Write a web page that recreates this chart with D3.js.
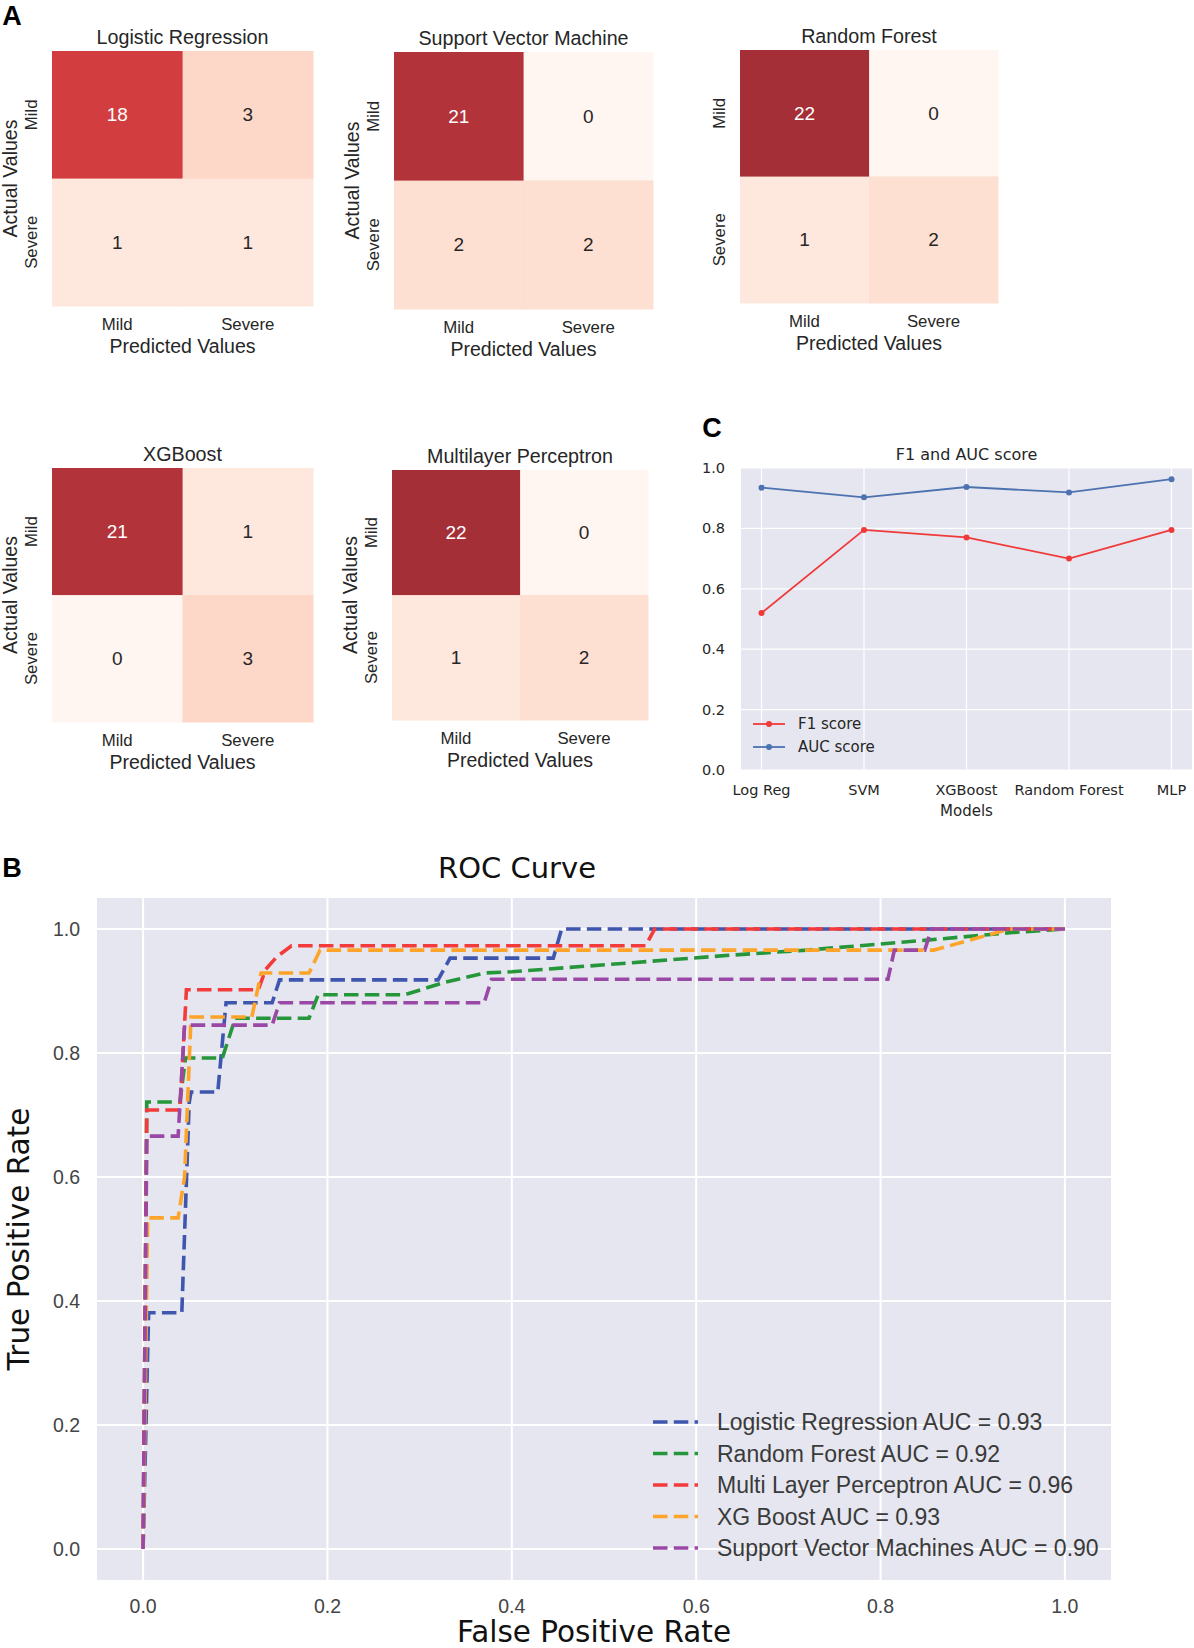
<!DOCTYPE html>
<html><head><meta charset="utf-8">
<script src="https://cdn.jsdelivr.net/npm/d3@7"></script>
<style>body{margin:0;background:#fff}</style>
</head><body><svg id="c" width="1194" height="1648"></svg>
<script>
// ---------------- DATA ----------------
const classLabels = ["Mild", "Severe"];
const cmTitles = ["Logistic Regression", "Support Vector Machine", "Random Forest", "XGBoost", "Multilayer Perceptron"];
const cmLR  = [[18, 3], [1, 1]];
const cmSVM = [[21, 0], [2, 2]];
const cmRF  = [[22, 0], [1, 2]];
const cmXGB = [[21, 1], [0, 3]];
const cmMLP = [[22, 0], [1, 2]];

const models = ["Log Reg", "SVM", "XGBoost", "Random Forest", "MLP"];
const f1Scores  = [0.52, 0.795, 0.77, 0.70, 0.795];
const aucScores = [0.935, 0.903, 0.937, 0.919, 0.963];
const scoreTicks = [0.0, 0.2, 0.4, 0.6, 0.8, 1.0];

const rocNames = ["Logistic Regression AUC = 0.93", "Random Forest AUC = 0.92", "Multi Layer Perceptron AUC = 0.96", "XG Boost AUC = 0.93", "Support Vector Machines AUC = 0.90"];
const rocLR  = [[0,0],[0.006,0.381],[0.042,0.381],[0.05,0.72],[0.052,0.737],[0.081,0.737],[0.09,0.881],[0.14,0.881],[0.148,0.918],[0.32,0.918],[0.333,0.953],[0.445,0.953],[0.454,1.0],[1.0,1.0]];
const rocRF  = [[0,0],[0.004,0.721],[0.04,0.721],[0.046,0.792],[0.086,0.792],[0.10,0.856],[0.18,0.856],[0.19,0.894],[0.284,0.894],[0.325,0.913],[0.37,0.929],[0.40,0.931],[0.64,0.958],[0.72,0.966],[0.85,0.982],[0.94,0.994],[1.0,1.0]];
const rocMLP = [[0,0],[0.004,0.708],[0.04,0.708],[0.047,0.902],[0.125,0.902],[0.133,0.935],[0.145,0.955],[0.161,0.973],[0.545,0.973],[0.555,1.0],[1.0,1.0]];
const rocXGB = [[0,0],[0.005,0.534],[0.038,0.534],[0.045,0.60],[0.052,0.858],[0.118,0.858],[0.128,0.929],[0.18,0.929],[0.192,0.966],[0.858,0.966],[0.94,1.0],[1.0,1.0]];
const rocSVM = [[0,0],[0.004,0.666],[0.038,0.666],[0.045,0.845],[0.14,0.845],[0.148,0.881],[0.37,0.881],[0.378,0.919],[0.808,0.919],[0.815,0.966],[0.848,0.966],[0.855,1.0],[1.0,1.0]];
const rocTicks = [0.0, 0.2, 0.4, 0.6, 0.8, 1.0];

// ---------------- STYLE / LAYOUT ----------------
const svg = d3.select("#c");
const AR = "Liberation Sans, Arial, sans-serif";
const DJ = "DejaVu Sans, sans-serif";
const TXT = "#262626";
const BG = "#e5e6ef";

svg.append("rect").attr("width", 1194).attr("height", 1648).attr("fill", "#fff");

// panel letters
[["A", 12, 16], ["B", 12, 868], ["C", 712, 428]].forEach(([t, x, y]) => {
  svg.append("text").text(t).attr("x", x).attr("y", y).attr("text-anchor", "middle")
    .attr("dominant-baseline", "central").attr("font-family", AR).attr("font-weight", "bold")
    .attr("font-size", 27).attr("fill", "#000");
});

// ---------------- PANEL A : confusion matrices ----------------
const cmT = d3.scaleLinear().domain([0, 1, 22]).range([0.01, 0.10, 0.905]);
const cmColor = v => d3.interpolateReds(cmT(v));
const cmPanels = [
  {m: cmLR,  t: cmTitles[0], x0: 52,  x1: 313, y0: 51,  y1: 306, ylab: true},
  {m: cmSVM, t: cmTitles[1], x0: 394, x1: 653, y0: 52,  y1: 309, ylab: true},
  {m: cmRF,  t: cmTitles[2], x0: 740, x1: 998, y0: 50,  y1: 303, ylab: false},
  {m: cmXGB, t: cmTitles[3], x0: 52,  x1: 313, y0: 468, y1: 722, ylab: true},
  {m: cmMLP, t: cmTitles[4], x0: 392, x1: 648, y0: 470, y1: 720, ylab: true}
];
cmPanels.forEach(p => {
  const g = svg.append("g");
  const xs = d3.scaleBand().domain(classLabels).range([p.x0, p.x1]);
  const ys = d3.scaleBand().domain(classLabels).range([p.y0, p.y1]);
  const cells = [];
  classLabels.forEach((a, i) => classLabels.forEach((pr, j) => cells.push({a, pr, v: p.m[i][j]})));
  g.selectAll("rect").data(cells).join("rect")
    .attr("x", d => xs(d.pr)).attr("y", d => ys(d.a))
    .attr("width", xs.bandwidth() + 0.5).attr("height", ys.bandwidth() + 0.5)
    .attr("fill", d => cmColor(d.v)).attr("fill-opacity", 0.85);
  g.selectAll("text.v").data(cells).join("text").attr("class", "v")
    .attr("x", d => xs(d.pr) + xs.bandwidth() / 2).attr("y", d => ys(d.a) + ys.bandwidth() / 2)
    .attr("text-anchor", "middle").attr("dominant-baseline", "central")
    .attr("font-family", AR).attr("font-size", 19)
    .attr("fill", d => d.v > 11 ? "#fff" : TXT).text(d => d.v);
  g.append("text").text(p.t).attr("x", (p.x0 + p.x1) / 2).attr("y", p.y0 - 14)
    .attr("text-anchor", "middle").attr("dominant-baseline", "central")
    .attr("font-family", AR).attr("font-size", 19.7).attr("fill", TXT);
  classLabels.forEach(c => {
    g.append("text").text(c).attr("x", xs(c) + xs.bandwidth() / 2).attr("y", p.y1 + 18)
      .attr("text-anchor", "middle").attr("dominant-baseline", "central")
      .attr("font-family", AR).attr("font-size", 16.8).attr("fill", TXT);
    g.append("text").text(c)
      .attr("transform", `translate(${p.x0 - 21},${ys(c) + ys.bandwidth() / 2}) rotate(-90)`)
      .attr("text-anchor", "middle").attr("dominant-baseline", "central")
      .attr("font-family", AR).attr("font-size", 16.8).attr("fill", TXT);
  });
  g.append("text").text("Predicted Values").attr("x", (p.x0 + p.x1) / 2).attr("y", p.y1 + 40)
    .attr("text-anchor", "middle").attr("dominant-baseline", "central")
    .attr("font-family", AR).attr("font-size", 19.5).attr("fill", TXT);
  if (p.ylab) {
    g.append("text").text("Actual Values")
      .attr("transform", `translate(${p.x0 - 42},${(p.y0 + p.y1) / 2}) rotate(-90)`)
      .attr("text-anchor", "middle").attr("dominant-baseline", "central")
      .attr("font-family", AR).attr("font-size", 19.5).attr("fill", TXT);
  }
});

// ---------------- PANEL C : F1 and AUC ----------------
(function () {
  const L = 741, R = 1192, T = 468, B = 770;
  const x = d3.scaleLinear().domain([-0.2, models.length - 1 + 0.2]).range([L, R]);
  const y = d3.scaleLinear().domain([0, 1]).range([B, T]);
  const g = svg.append("g");
  g.append("rect").attr("x", L).attr("y", T).attr("width", R - L).attr("height", B - T).attr("fill", BG);
  g.selectAll("line.gy").data(scoreTicks).join("line").attr("class", "gy")
    .attr("x1", L).attr("x2", R).attr("y1", d => y(d)).attr("y2", d => y(d))
    .attr("stroke", "#fff").attr("stroke-width", 1.2);
  g.selectAll("line.gx").data(models).join("line").attr("class", "gx")
    .attr("x1", (d, i) => x(i)).attr("x2", (d, i) => x(i)).attr("y1", T).attr("y2", B)
    .attr("stroke", "#fff").attr("stroke-width", 1.2);
  g.selectAll("text.ty").data(scoreTicks).join("text").attr("class", "ty")
    .attr("x", L - 16).attr("y", d => y(d)).attr("text-anchor", "end").attr("dominant-baseline", "central")
    .attr("font-family", DJ).attr("font-size", 14.5).attr("fill", TXT).text(d => d.toFixed(1));
  g.selectAll("text.tx").data(models).join("text").attr("class", "tx")
    .attr("x", (d, i) => x(i)).attr("y", B + 20).attr("text-anchor", "middle").attr("dominant-baseline", "central")
    .attr("font-family", DJ).attr("font-size", 14.5).attr("fill", TXT).text(d => d);
  g.append("text").text("Models").attr("x", (L + R) / 2).attr("y", B + 41)
    .attr("text-anchor", "middle").attr("dominant-baseline", "central")
    .attr("font-family", DJ).attr("font-size", 15).attr("fill", TXT);
  g.append("text").text("F1 and AUC score").attr("x", (L + R) / 2).attr("y", T - 14)
    .attr("text-anchor", "middle").attr("dominant-baseline", "central")
    .attr("font-family", DJ).attr("font-size", 16).attr("fill", TXT);
  const series = [{v: f1Scores, c: "#f03a3a", n: "F1 score"}, {v: aucScores, c: "#4c72b0", n: "AUC score"}];
  const line = d3.line().x((d, i) => x(i)).y(d => y(d));
  series.forEach((s, k) => {
    g.append("path").attr("d", line(s.v)).attr("fill", "none").attr("stroke", s.c).attr("stroke-width", 1.8);
    g.selectAll(null).data(s.v).join("circle").attr("cx", (d, i) => x(i)).attr("cy", d => y(d))
      .attr("r", 3).attr("fill", s.c);
    const ly = 724 + k * 23;
    g.append("line").attr("x1", 753).attr("x2", 785).attr("y1", ly).attr("y2", ly)
      .attr("stroke", s.c).attr("stroke-width", 1.8);
    g.append("circle").attr("cx", 769).attr("cy", ly).attr("r", 3).attr("fill", s.c);
    g.append("text").text(s.n).attr("x", 798).attr("y", ly).attr("dominant-baseline", "central")
      .attr("font-family", DJ).attr("font-size", 15).attr("fill", TXT);
  });
})();

// ---------------- PANEL B : ROC ----------------
(function () {
  const L = 97, R = 1111, T = 898, B = 1580;
  const x = d3.scaleLinear().domain([-0.05, 1.05]).range([L, R]);
  const y = d3.scaleLinear().domain([-0.05, 1.05]).range([B, T]);
  const g = svg.append("g");
  g.append("rect").attr("x", L).attr("y", T).attr("width", R - L).attr("height", B - T).attr("fill", BG);
  g.selectAll("line.gy").data(rocTicks).join("line").attr("class", "gy")
    .attr("x1", L).attr("x2", R).attr("y1", d => y(d)).attr("y2", d => y(d))
    .attr("stroke", "#fff").attr("stroke-width", 2);
  g.selectAll("line.gx").data(rocTicks).join("line").attr("class", "gx")
    .attr("x1", d => x(d)).attr("x2", d => x(d)).attr("y1", T).attr("y2", B)
    .attr("stroke", "#fff").attr("stroke-width", 2);
  g.selectAll("text.ty").data(rocTicks).join("text").attr("class", "ty")
    .attr("x", L - 17).attr("y", d => y(d)).attr("text-anchor", "end").attr("dominant-baseline", "central")
    .attr("font-family", AR).attr("font-size", 19.5).attr("fill", "#444").text(d => d.toFixed(1));
  g.selectAll("text.tx").data(rocTicks).join("text").attr("class", "tx")
    .attr("x", d => x(d)).attr("y", B + 26).attr("text-anchor", "middle").attr("dominant-baseline", "central")
    .attr("font-family", AR).attr("font-size", 19.5).attr("fill", "#444").text(d => d.toFixed(1));
  g.append("text").text("ROC Curve").attr("x", 517).attr("y", 868)
    .attr("text-anchor", "middle").attr("dominant-baseline", "central")
    .attr("font-family", DJ).attr("font-size", 29).attr("fill", "#111");
  g.append("text").text("False Positive Rate").attr("x", (L + R) / 2 - 10).attr("y", 1632)
    .attr("text-anchor", "middle").attr("dominant-baseline", "central")
    .attr("font-family", DJ).attr("font-size", 29.5).attr("fill", "#111");
  g.append("text").text("True Positive Rate")
    .attr("transform", `translate(19,${(T + B) / 2}) rotate(-90)`)
    .attr("text-anchor", "middle").attr("dominant-baseline", "central")
    .attr("font-family", DJ).attr("font-size", 29.5).attr("fill", "#111");
  const curves = [
    {d: rocLR,  c: "#3f56ae"},
    {d: rocRF,  c: "#26963a"},
    {d: rocMLP, c: "#f43b3b"},
    {d: rocXGB, c: "#ffa42a"},
    {d: rocSVM, c: "#9a48a6"}
  ];
  const line = d3.line().x(d => x(d[0])).y(d => y(d[1]));
  curves.forEach((cv, i) => {
    g.append("path").attr("d", line(cv.d)).attr("fill", "none").attr("stroke", cv.c)
      .attr("stroke-width", 3.6).attr("stroke-dasharray", "14.5,6.3");
    const ly = 1422 + i * 31.5;
    g.append("line").attr("x1", 653).attr("x2", 698).attr("y1", ly).attr("y2", ly)
      .attr("stroke", cv.c).attr("stroke-width", 3.6).attr("stroke-dasharray", "14.5,6.3");
    g.append("text").text(rocNames[i]).attr("x", 717).attr("y", ly).attr("dominant-baseline", "central")
      .attr("font-family", AR).attr("font-size", 23).attr("fill", "#3a3a3a");
  });
})();
</script></body></html>
